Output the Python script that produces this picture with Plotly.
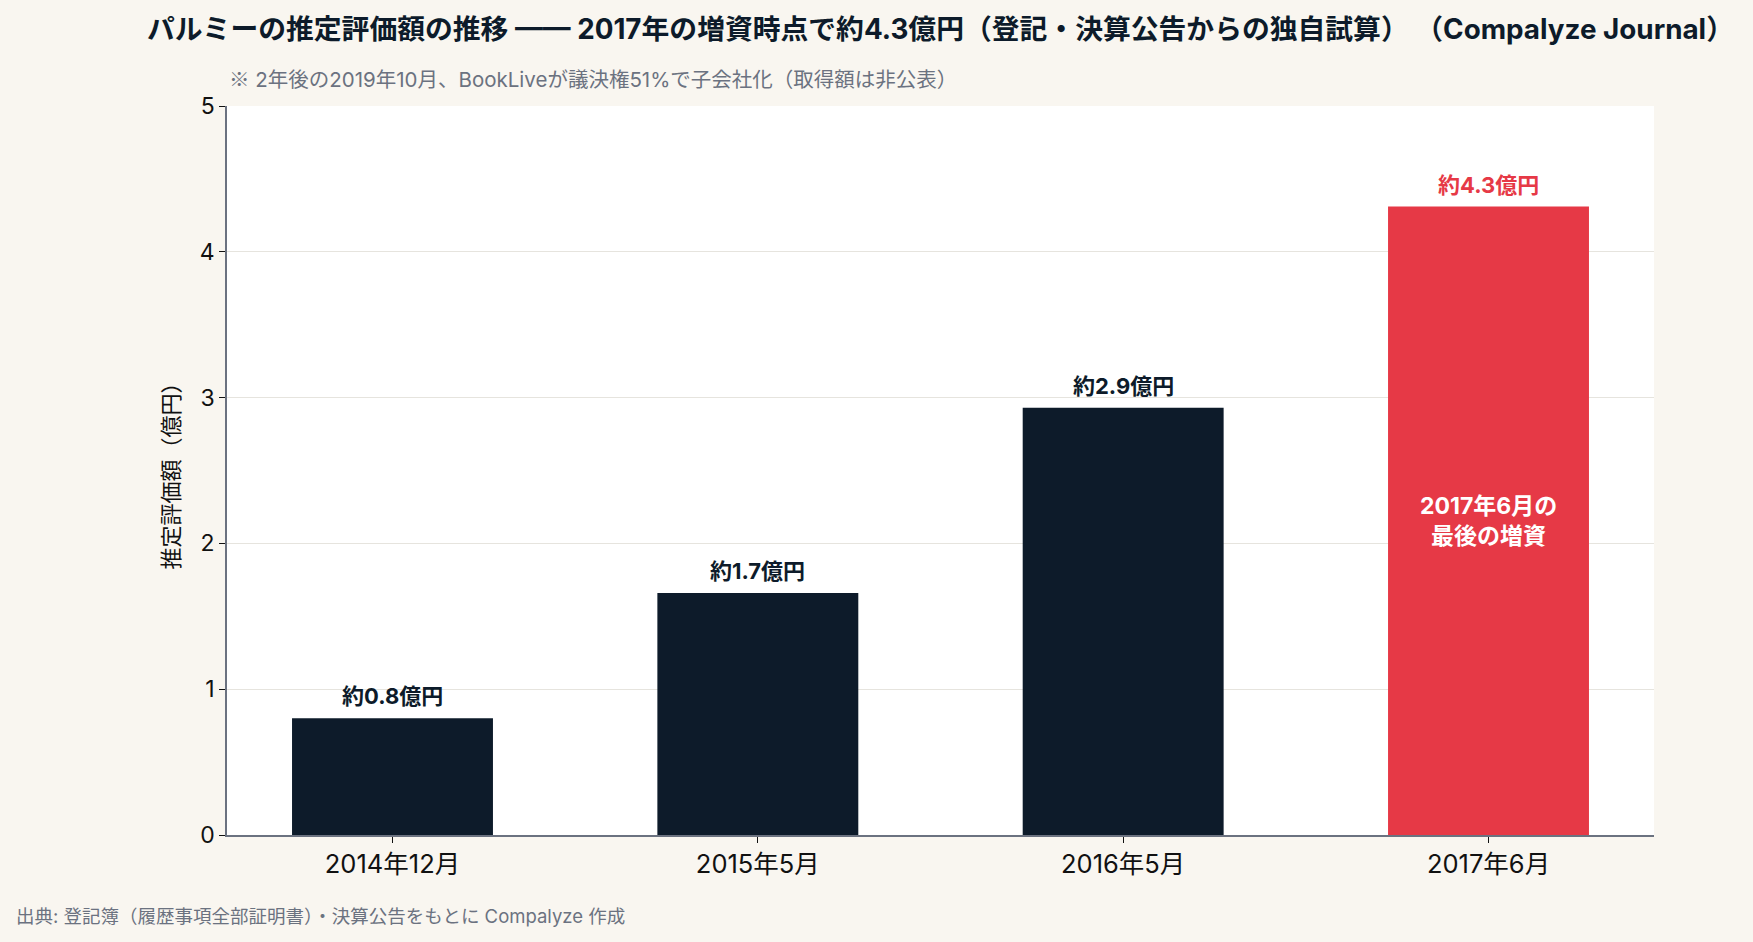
import plotly.graph_objects as go

categories = ["2014年12月", "2015年5月", "2016年5月", "2017年6月"]
values = [0.80, 1.66, 2.93, 4.31]
value_labels = ["約0.8億円", "約1.7億円", "約2.9億円", "約4.3億円"]
bar_colors = ["#0d1b2a", "#0d1b2a", "#0d1b2a", "#e63946"]
label_colors = ["#0d1b2a", "#0d1b2a", "#0d1b2a", "#e63946"]
inner_note = "2017年6月の<br>最後の増資"

FONT = "Inter, Noto Sans CJK JP"

fig = go.Figure()
fig.add_trace(go.Bar(
    x=list(range(len(categories))),
    y=values,
    marker=dict(color=bar_colors, line=dict(width=0)),
    width=0.55,
    hoverinfo="skip",
))

for i, (v, t, c) in enumerate(zip(values, value_labels, label_colors)):
    fig.add_annotation(
        x=i, y=v, xref="x", yref="y",
        text="<b>" + t + "</b>",
        showarrow=False, yanchor="bottom", yshift=7,
        font=dict(family=FONT, size=22, color=c),
    )

fig.add_annotation(
    x=3, y=values[3] / 2, xref="x", yref="y",
    text="<b>" + inner_note + "</b>",
    showarrow=False,
    font=dict(family=FONT, size=23, color="white"),
    align="center",
)

fig.update_layout(
    width=1753, height=942,
    paper_bgcolor="#f9f6f0",
    plot_bgcolor="#ffffff",
    margin=dict(l=227, r=99, t=106, b=107),
    showlegend=False,
    font=dict(family=FONT, color="#0d1b2a"),
    title=dict(
        text="<b>パルミーの推定評価額の推移 —— 2017年の増資時点で約4.3億円（登記・決算公告からの独自試算） （Compalyze Journal）</b>",
        x=0.5365, xanchor="center", y=0.969, yanchor="middle",
        font=dict(family=FONT, size=27.8, color="#0d1b2a"),
    ),
    xaxis=dict(
        tickmode="array",
        tickvals=list(range(len(categories))),
        ticktext=categories,
        range=[-0.453, 3.453],
        showgrid=False,
        showline=True, linecolor="#6b7280", linewidth=1.5,
        ticks="outside", ticklen=6, tickcolor="#111111",
        tickfont=dict(family=FONT, size=25.5, color="#111111"),
        fixedrange=True,
    ),
    yaxis=dict(
        range=[0, 5],
        dtick=1,
        showgrid=True, gridcolor="#e6e4de", gridwidth=1,
        zeroline=False,
        showline=True, linecolor="#6b7280", linewidth=1.5,
        ticks="outside", ticklen=6, tickcolor="#111111",
        tickfont=dict(family=FONT, size=23, color="#111111"),
        title=dict(text="推定評価額（億円）", font=dict(family=FONT, size=22, color="#111111"), standoff=14),
        fixedrange=True,
    ),
)

fig.add_annotation(
    xref="paper", yref="paper", x=0, y=1.0, yshift=28,
    xanchor="left", yanchor="middle",
    text="<span style=\"font-family:'Noto Sans CJK JP'\">※</span> 2年後の2019年10月、BookLiveが議決権51%で子会社化（取得額は非公表）",
    showarrow=False,
    font=dict(family=FONT, size=20.5, color="#6b7280"),
)

fig.add_annotation(
    xref="paper", yref="paper", x=-0.149, xanchor="left",
    y=0, yshift=-81, yanchor="middle",
    text="出典: 登記簿（履歴事項全部証明書）・決算公告をもとに Compalyze 作成",
    showarrow=False,
    font=dict(family=FONT, size=18.5, color="#6b7280"),
)

fig.write_html("out.html")
